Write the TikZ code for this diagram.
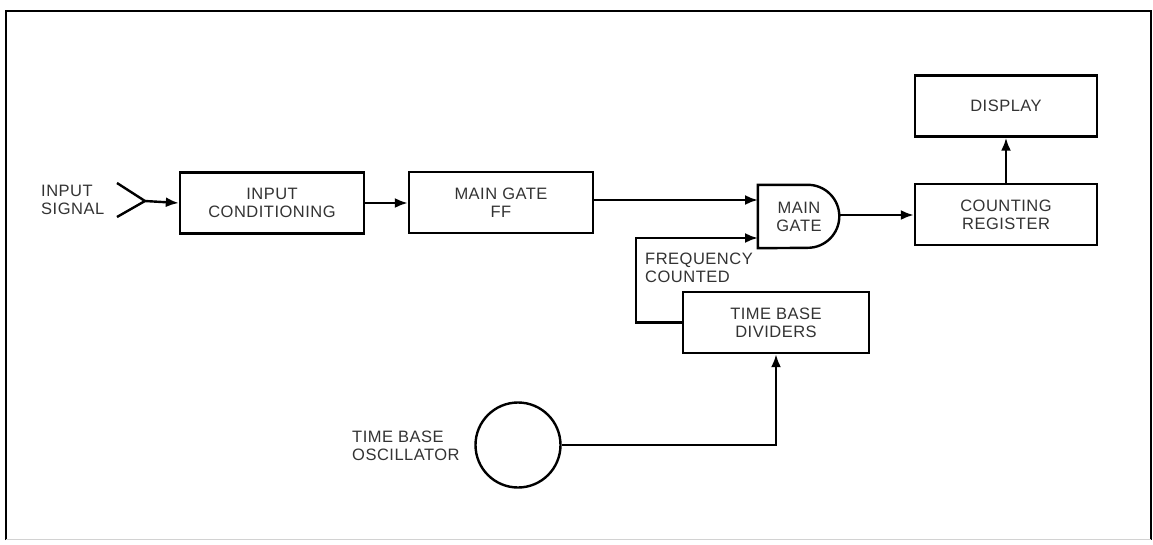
\documentclass[tikz,border=0pt]{standalone}
\usepackage{fontspec}
\setmainfont{Liberation Sans}[LetterSpace=3]
\usetikzlibrary{arrows.meta}
\newcommand{\lbl}{\fontsize{16.5}{18}\selectfont\color{black!80}}
\tikzset{
  blk/.style={draw, line width=2.4pt, minimum width=184pt, minimum height=61pt,
    align=center, font=\lbl},
  txt/.style={align=left, font=\lbl, inner sep=0pt},
  lnk/.style={line width=2.4pt, ->},
}
\begin{document}
\begin{tikzpicture}[x=1pt, y=-1pt, >={Latex[length=13pt,width=10pt]}]

    \useasboundingbox (0,0) rectangle (1153,544);

    % 1. Frame
    \draw[line width=2.4pt] (6,540) -- (6,11) -- (1151,11) -- (1151,540);
    \draw[gray!35, line width=1pt] (6,539) -- (1151,539);

    % 2. Blocks
    \node[blk] (cond) at (272,203)   {INPUT\\CONDITIONING};
    \node[blk] (ff)   at (501,202.5) {MAIN GATE\\FF};
    \node[blk, minimum width=182pt] (reg)  at (1006,214.5) {COUNTING\\REGISTER};
    \node[blk, minimum width=182pt] (disp) at (1006,106)   {DISPLAY};
    \node[blk, minimum width=186pt] (div)  at (776,322.5)  {TIME BASE\\DIVIDERS};
    \node[draw, circle, line width=2.4pt, minimum size=85pt] (osc) at (518,445) {};

    % 3. Main gate (AND shape)
    \node[font=\lbl, align=center, minimum width=82pt, minimum height=63pt,
          inner sep=0pt] (gate) at (799,216.5) {MAIN\\GATE};
    \draw[line width=2.4pt] (gate.south west) -- (gate.north west) -- ++(50,0)
        arc (-90:90:31.5) -- cycle;
    \coordinate (gin1) at (758,200);
    \coordinate (gin2) at (758,238);
    \coordinate (gout) at (840,215);

    % 4. Antenna
    \coordinate (ant) at (145,201);
    \draw[line width=2.4pt] (117,183) -- (ant) -- (117,217);

    % 5. Labels
    \node[txt, anchor=west] (sig)  at (41,200)  {INPUT\\SIGNAL};
    \node[txt, anchor=west] (freq) at (645,268) {FREQUENCY\\COUNTED};
    \node[txt, anchor=west] (tbo)  at (352,446) {TIME BASE\\OSCILLATOR};

    % 6. Connectors
    \draw[lnk] (ant) -- (cond.west);
    \draw[lnk] (cond.east) -- (cond.east -| ff.west);
    \draw[lnk] (ff.east |- gin1) -- (gin1);
    \draw[lnk] (div.west) -- ++(-46,0) |- (gin2);
    \draw[lnk] (gout) -- (gout -| reg.west);
    \draw[lnk] (reg.north) -- (disp.south);
    \draw[lnk] (osc.east) -| (div.south);

\end{tikzpicture}
\end{document}
